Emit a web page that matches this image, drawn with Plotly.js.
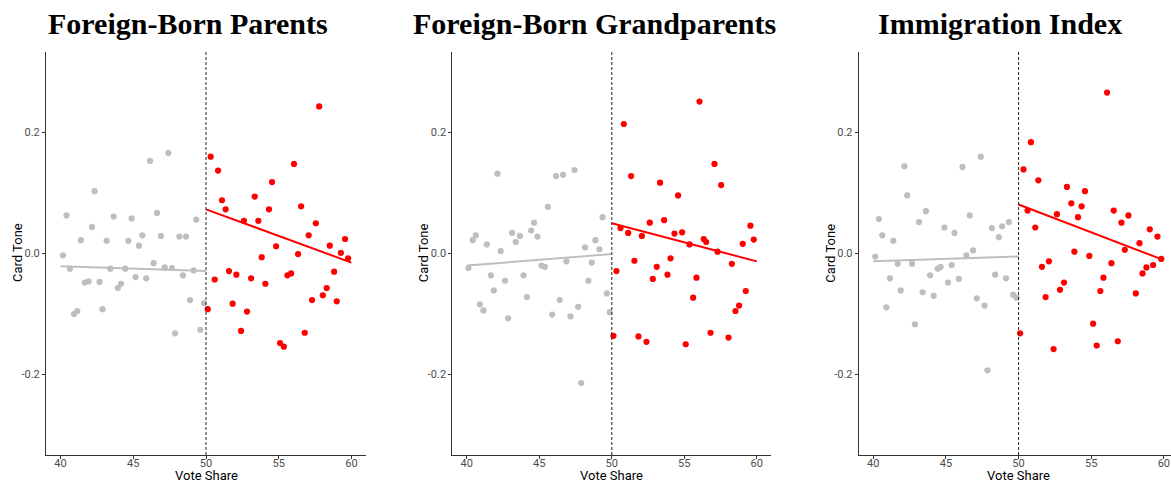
<!DOCTYPE html>
<html><head><meta charset="utf-8">
<script src="https://cdn.plot.ly/plotly-3.0.1.min.js"></script>
<style>body{margin:0;background:#fff}#chart{width:1171px;height:484px}</style>
</head><body><div id="chart"></div>
<script>
const panelTitles = ["Foreign-Born Parents", "Foreign-Born Grandparents", "Immigration Index"];
const xTickVals = [40, 45, 50, 55, 60];
const yTickVals = [-0.2, 0, 0.2];
const yTickText = ["-0.2", "0.0", "0.2"];
const cutoff = 50;

const p1GrayX = [40.16,40.41,40.64,40.92,41.15,41.40,41.67,41.93,42.16,42.34,42.68,42.89,43.17,43.42,43.65,43.94,44.15,44.45,44.66,44.89,45.16,45.39,45.62,45.89,46.15,46.40,46.63,46.90,47.16,47.41,47.66,47.87,48.17,48.42,48.62,48.90,49.15,49.33,49.61,49.86];
const p1GrayY = [-0.003,0.063,-0.025,-0.100,-0.095,0.022,-0.048,-0.046,0.044,0.103,-0.047,-0.092,0.021,-0.025,0.061,-0.057,-0.050,-0.025,0.021,0.058,-0.039,0.013,0.030,-0.041,0.153,-0.016,0.067,0.029,-0.023,0.166,-0.024,-0.132,0.028,-0.036,0.028,-0.077,-0.028,0.056,-0.126,-0.082];
const p1RedX = [50.32,50.83,50.12,50.60,51.10,51.35,51.58,51.83,52.09,52.41,52.61,52.82,53.10,53.35,53.60,53.83,54.08,54.33,54.54,54.82,55.09,55.35,55.60,55.85,56.05,56.33,56.54,56.79,57.06,57.29,57.55,57.78,58.03,58.30,58.51,58.81,58.99,59.27,59.56,59.77];
const p1RedY = [0.160,0.137,-0.092,-0.043,0.088,0.073,-0.029,-0.083,-0.035,-0.128,0.054,-0.096,-0.041,0.094,0.054,-0.006,-0.050,0.073,0.118,0.012,-0.148,-0.154,-0.036,-0.033,0.148,-0.001,0.078,-0.131,0.030,-0.077,0.050,0.243,-0.069,-0.057,0.013,-0.030,-0.079,0.001,0.024,-0.008];

const p2GrayX = [40.11,40.41,40.62,40.90,41.15,41.38,41.66,41.86,42.11,42.34,42.64,42.85,43.13,43.38,43.66,43.91,44.14,44.44,44.64,44.87,45.15,45.38,45.59,45.89,46.16,46.41,46.64,46.87,47.15,47.43,47.68,47.89,48.16,48.39,48.62,48.87,49.15,49.36,49.66,49.86];
const p2GrayY = [-0.024,0.022,0.030,-0.084,-0.094,0.015,-0.036,-0.061,0.132,0.004,-0.045,-0.107,0.034,0.019,0.029,-0.036,-0.072,0.038,0.051,0.028,-0.020,-0.022,0.077,-0.101,0.128,-0.077,0.130,-0.013,-0.104,0.138,-0.088,-0.214,0.010,-0.045,-0.015,0.022,0.007,0.060,-0.066,-0.097];
const p2RedX = [50.11,50.32,50.60,50.83,51.13,51.33,51.56,51.84,52.07,52.39,52.62,52.83,53.10,53.33,53.61,53.84,54.05,54.32,54.57,54.85,55.10,55.36,55.61,55.84,56.05,56.34,56.51,56.81,57.08,57.29,57.54,58.05,58.28,58.53,58.78,59.03,59.24,59.56,59.79];
const p2RedY = [-0.136,-0.029,0.042,0.214,0.034,0.128,-0.012,-0.137,0.029,-0.146,0.051,-0.042,-0.022,0.117,0.055,-0.035,-0.008,0.033,0.096,0.035,-0.150,0.015,-0.073,-0.040,0.251,0.024,0.019,-0.131,0.148,0.003,0.113,-0.139,-0.017,-0.095,-0.086,0.016,-0.062,0.046,0.023];

const p3GrayX = [40.14,40.39,40.62,40.90,41.15,41.38,41.68,41.89,42.14,42.34,42.67,42.87,43.15,43.40,43.63,43.91,44.16,44.44,44.64,44.90,45.15,45.40,45.59,45.89,46.14,46.41,46.64,46.87,47.13,47.40,47.66,47.86,48.16,48.39,48.64,48.87,49.13,49.33,49.63,49.86];
const p3GrayY = [-0.005,0.057,0.030,-0.089,-0.041,0.021,-0.017,-0.061,0.144,0.096,-0.017,-0.117,0.052,-0.064,0.070,-0.036,-0.070,-0.025,-0.022,0.043,-0.048,-0.019,0.034,-0.042,0.143,-0.003,0.063,0.005,-0.074,0.160,-0.086,-0.193,0.042,-0.035,0.027,0.045,-0.041,0.052,-0.068,-0.073];
const p3RedX = [50.11,50.34,50.62,50.85,51.15,51.36,51.61,51.86,52.09,52.41,52.64,52.85,53.13,53.33,53.63,53.84,54.09,54.34,54.57,54.87,55.13,55.38,55.63,55.84,56.09,56.39,56.55,56.83,57.08,57.31,57.56,58.07,58.32,58.53,58.80,59.03,59.26,59.56,59.82];
const p3RedY = [-0.132,0.139,0.071,0.184,0.043,0.121,-0.022,-0.072,-0.013,-0.158,0.065,-0.060,-0.048,0.110,0.083,0.003,0.060,0.078,0.103,-0.004,-0.116,-0.152,-0.062,-0.040,0.266,-0.016,0.071,-0.145,0.051,0.006,0.063,-0.066,0.017,-0.033,-0.023,0.040,-0.019,0.028,-0.009];

// fitted line end values, over [40,50] and [50,60]
const fitGrayX = [40, 50];
const fitRedX = [50, 60];
const p1FitGray = [-0.021, -0.029], p1FitRed = [0.073, -0.015];
const p2FitGray = [-0.020, -0.001], p2FitRed = [0.050, -0.013];
const p3FitGray = [-0.013, -0.005], p3FitRed = [0.081, -0.011];

const GRAY = '#bebebe', RED = '#ff0000';
const panels = [
  {gx:p1GrayX, gy:p1GrayY, rx:p1RedX, ry:p1RedY, fg:p1FitGray, fr:p1FitRed},
  {gx:p2GrayX, gy:p2GrayY, rx:p2RedX, ry:p2RedY, fg:p2FitGray, fr:p2FitRed},
  {gx:p3GrayX, gy:p3GrayY, rx:p3RedX, ry:p3RedY, fg:p3FitGray, fr:p3FitRed}
];
const W = 1171, H = 484;
const xDomPx = [[46, 366], [452.3, 771.3], [858.7, 1171]];
const xRanges = [[39, 61], [39, 61], [39, 60.49]];
const yTopPx = 52, yBotPx = 455;
const titleCx = [188, 594, 1000];

const traces = [];
const layout = {
  width: W, height: H, margin: {l:0, r:0, t:0, b:0},
  paper_bgcolor: '#fff', plot_bgcolor: '#fff', showlegend: false,
  font: {family: 'Roboto, sans-serif', color: '#4d4d4d'},
  shapes: [], annotations: []
};
panels.forEach((p, i) => {
  const n = i === 0 ? '' : String(i + 1);
  const xa = 'x' + n, ya = 'y' + n;
  const mk = (c) => ({color: c, size: 6.2, line: {width: 0}});
  traces.push({type:'scatter', mode:'markers', x:p.gx, y:p.gy, xaxis:xa, yaxis:ya, marker:mk(GRAY), hoverinfo:'skip'});
  traces.push({type:'scatter', mode:'markers', x:p.rx, y:p.ry, xaxis:xa, yaxis:ya, marker:mk(RED), hoverinfo:'skip'});
  traces.push({type:'scatter', mode:'lines', x:fitGrayX, y:p.fg, xaxis:xa, yaxis:ya, line:{color:GRAY, width:2}, hoverinfo:'skip'});
  traces.push({type:'scatter', mode:'lines', x:fitRedX, y:p.fr, xaxis:xa, yaxis:ya, line:{color:RED, width:2}, hoverinfo:'skip'});
  const axCommon = {
    showline: true, linecolor: '#333', linewidth: 1, mirror: false,
    showgrid: false, zeroline: false, ticks: 'outside', ticklen: 3,
    tickcolor: '#333', tickwidth: 1,
    tickfont: {family: 'Roboto, sans-serif', size: 11, color: '#4d4d4d'},
    fixedrange: true
  };
  layout['xaxis' + n] = Object.assign({}, axCommon, {
    domain: [xDomPx[i][0] / W, xDomPx[i][1] / W], range: xRanges[i],
    tickvals: xTickVals, anchor: ya, ticklabelstandoff: -5
  });
  layout['yaxis' + n] = Object.assign({}, axCommon, {
    domain: [(H - yBotPx) / H, (H - yTopPx) / H], range: [-0.333, 0.333],
    tickvals: yTickVals, ticktext: yTickText, anchor: xa, ticklabelstandoff: 0
  });
  layout.shapes.push({type:'line', xref:xa, yref:ya + ' domain', x0:cutoff, x1:cutoff, y0:0, y1:1,
    line:{color:'#222', width:1, dash:'3px,2px'}});
  layout.annotations.push({text: panelTitles[i], xref:'paper', yref:'paper',
    x: titleCx[i] / W, y: (H - 23) / H, xanchor:'center', yanchor:'middle', showarrow:false,
    font:{family:'Liberation Serif, serif', size:30, color:'#000', weight:'bold'}});
  layout.annotations.push({text: 'Vote Share', xref:xa, yref:'paper',
    x: cutoff, y: (H - 475) / H, xanchor:'center', yanchor:'middle', showarrow:false,
    font:{family:'Roboto, sans-serif', size:13, color:'#000'}});
  layout.annotations.push({text: 'Card Tone', xref:'paper', yref:'paper', textangle:-90,
    x: (xDomPx[i][0] - 29) / W, y: (H - 253) / H, xanchor:'center', yanchor:'middle', showarrow:false,
    font:{family:'Roboto, sans-serif', size:13, color:'#000'}});
});
Plotly.newPlot('chart', traces, layout, {staticPlot: true, displayModeBar: false});
</script>
</body></html>
